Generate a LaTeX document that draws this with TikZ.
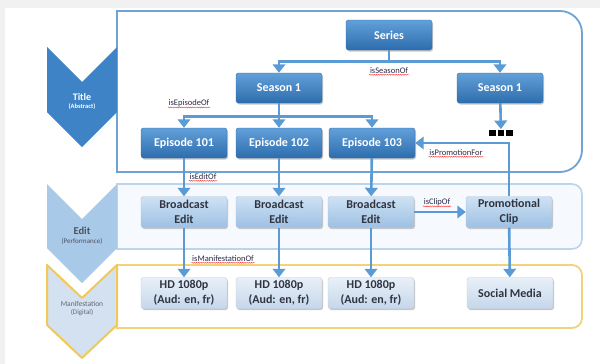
\documentclass[tikz,border=0pt]{standalone}
\usepackage{fontspec}
\setmainfont{Carlito}
\usetikzlibrary{arrows.meta,shadows,decorations.pathmorphing}
\definecolor{bggray}{HTML}{F1F1F1}
\definecolor{tband}{HTML}{6FA3D3}
\definecolor{eband}{HTML}{BCD5EC}
\definecolor{ebandfill}{HTML}{F6F9FD}
\definecolor{mband}{HTML}{F3D27A}
\definecolor{tchev}{HTML}{3E83C6}
\definecolor{echev}{HTML}{A9C9E8}
\definecolor{mchev}{HTML}{D3E1F0}
\definecolor{mchevline}{HTML}{F0C95A}
\definecolor{ttop}{HTML}{62A0DA}
\definecolor{tbot}{HTML}{2E6DAD}
\definecolor{etop}{HTML}{CFE2F4}
\definecolor{ebot}{HTML}{9DC0E3}
\definecolor{mtop}{HTML}{E8F0F8}
\definecolor{mbot}{HTML}{C5D7EB}
\definecolor{arrowc}{HTML}{5B9BD5}
\definecolor{lbltext}{HTML}{2A2A4A}
\definecolor{dtext}{HTML}{2F3440}
\tikzset{
  boxbase/.style={rounded corners=2.5pt, minimum width=86pt, minimum height=30pt, inner sep=1pt,
    align=center, font=\bfseries\fontsize{12}{15}\selectfont,
    general shadow={fill=black!22, shadow xshift=1pt, shadow yshift=-1.5pt}},
  tnode/.style={boxbase, top color=ttop, bottom color=tbot, draw=tbot, text=white},
  enode/.style={boxbase, top color=etop, bottom color=ebot, draw=ebot!80!black!60, text=dtext, minimum height=31pt},
  mnode/.style={boxbase, top color=mtop, bottom color=mbot, draw=mbot!80!black!60, text=dtext, minimum height=31pt},
  conn/.style={draw=arrowc, line width=2.6pt},
  arr/.style={conn, -{Triangle[width=12.5pt,length=8.5pt]}},
  lbl/.style={font=\fontsize{8.5}{10}\selectfont, text=lbltext, inner sep=0.6pt},
  squig/.style={draw=red!75, line width=0.45pt, decorate, decoration={snake, amplitude=0.5pt, segment length=2.2pt}},
}
\begin{document}
\begin{tikzpicture}[x=1pt,y=-1pt]
\useasboundingbox (0,0) rectangle (600,364);
\fill[bggray] (0,0) rectangle (600,364);
\fill[white] (5,8) rectangle (600,364);

% bands
\draw[tband, line width=1.8pt, fill=white] (117,11) -- (560,11) arc[start angle=90, end angle=0, radius=22pt]
  -- (582,150) arc[start angle=0, end angle=-90, radius=22pt] -- (117,172) -- cycle;
\draw[eband, line width=1.6pt, fill=ebandfill] (117,184) -- (572,184) arc[start angle=90, end angle=0, radius=10pt]
  -- (582,239) arc[start angle=0, end angle=-90, radius=10pt] -- (117,249) -- cycle;
\draw[mband, line width=1.8pt, fill=white] (117,265) -- (572,265) arc[start angle=90, end angle=0, radius=10pt]
  -- (582,318) arc[start angle=0, end angle=-90, radius=10pt] -- (117,328) -- cycle;

% chevrons
\fill[tchev] (47,47) -- (82,82) -- (117,47) -- (117,112) -- (82,147) -- (47,112) -- cycle;
\draw[mchevline, line width=2pt, fill=mchev, line join=round] (47,265) -- (82,298) -- (117,265) -- (117,325) -- (82,358) -- (47,325) -- cycle;
\fill[echev] (47,184) -- (82,219) -- (117,184) -- (117,248) -- (82,283) -- (47,248) -- cycle;

\node[font=\bfseries\fontsize{10}{12}\selectfont, text=white, inner sep=0pt] (ttl) at (82,97) {Title};
\node[font=\bfseries\fontsize{6.5}{8}\selectfont, text=white, inner sep=0pt] (ttlsub) at (82,107) {(Abstract)};
\node[font=\bfseries\fontsize{10.5}{12}\selectfont, text=dtext!85, inner sep=0pt] (edt) at (82,231) {Edit};
\node[font=\fontsize{7}{8}\selectfont, text=dtext!85, inner sep=0pt] (edtsub) at (82,241) {(Performance)};
\node[font=\fontsize{7.5}{9}\selectfont, text=dtext!75, inner sep=0pt] (man) at (82,304) {Manifestation};
\node[font=\fontsize{7}{9}\selectfont, text=dtext!75, inner sep=0pt] (mansub) at (82,313) {(Digital)};

% title-level nodes
\node[tnode] (series) at (389,35) {Series};
\node[tnode] (seasonA) at (279,88) {Season 1};
\node[tnode] (seasonB) at (500,88) {Season 1};
\node[tnode] (ep1) at (184,143) {Episode 101};
\node[tnode] (ep2) at (279,143) {Episode 102};
\node[tnode] (ep3) at (372,143) {Episode 103};
\node[inner sep=0.5pt] (dots) at (501,133) {\rule{6.5pt}{6.5pt}\hspace{1.8pt}\rule{6.5pt}{6.5pt}\hspace{1.8pt}\rule{6.5pt}{6.5pt}};

% edit nodes
\node[enode] (be1) at (184,212) {Broadcast\\Edit};
\node[enode] (be2) at (279,212) {Broadcast\\Edit};
\node[enode] (be3) at (371,212) {Broadcast\\Edit};
\node[enode] (promo) at (509,212) {Promotional\\Clip};

% manifestation nodes
\node[mnode] (hd1) at (184,293) {HD 1080p\\(Aud: en, fr)};
\node[mnode] (hd2) at (279,293) {HD 1080p\\(Aud: en, fr)};
\node[mnode] (hd3) at (371,293) {HD 1080p\\(Aud: en, fr)};
\node[mnode] (social) at (510,293) {Social Media};

% connectors
\draw[arr] (series.south) -- ++(0,11) -| (seasonA);
\draw[arr] (series.south) -- ++(0,11) -| (seasonB);
\draw[arr] (seasonA.south) -- ++(0,13) -| (ep1);
\draw[arr] (seasonA.south) -- (ep2);
\draw[arr] (seasonA.south) -- ++(0,13) -| (ep3);
\draw[arr] (seasonB) -- (dots);
\draw[arr] (ep1) -- (be1);
\draw[arr] (ep2) -- (be2);
\draw[arr] (ep3) -- (be3);
\draw[arr] (be3) -- (promo);
\draw[arr] (promo.north) |- (ep3.east);
\draw[arr] (be1) -- (hd1);
\draw[arr] (be2) -- (hd2);
\draw[arr] (be3) -- (hd3);
\draw[arr] (promo) -- (social);

% labels
\node[lbl] (l1) at (389,71) {isSeasonOf};
\node[lbl] (l2) at (189,103) {isEpisodeOf};
\node[lbl] (l3) at (203,177) {isEditOf};
\node[lbl] (l4) at (456,153) {isPromotionFor};
\node[lbl] (l5) at (437,202) {isClipOf};
\node[lbl] (l6) at (223,259) {isManifestationOf};
\foreach \l in {l1,l2,l3,l4,l5,l6}{\draw[squig] (\l.south west) -- (\l.south east);}
\end{tikzpicture}
\end{document}
